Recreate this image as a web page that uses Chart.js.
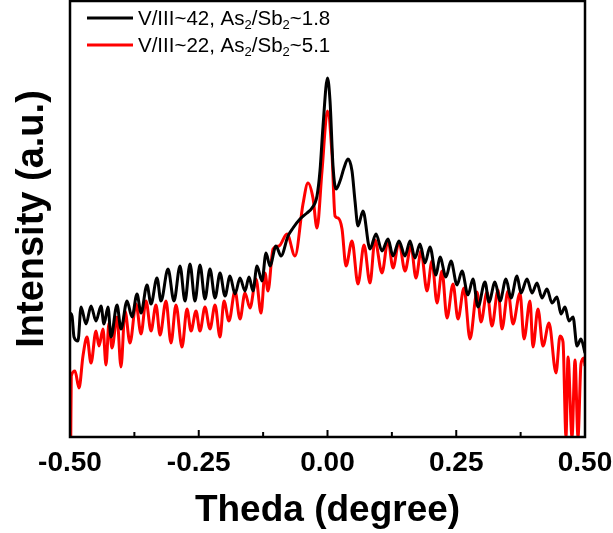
<!DOCTYPE html>
<html>
<head>
<meta charset="utf-8">
<script src="https://cdn.jsdelivr.net/npm/chart.js@4.4.1/dist/chart.umd.min.js"></script>
<style>
  html, body { margin: 0; padding: 0; background: #fff; }
  #wrap { width: 613px; height: 533px; }
</style>
</head>
<body>
<div id="wrap"><canvas id="xrdChart" width="613" height="533"></canvas></div>
<script>
// Rocking curves, omega scan (degree) vs intensity (a.u.)

// V/III~42 sample (black)
const blackTheta = [
  -0.500, -0.4961, -0.4922, -0.4845, -0.4786, -0.4689, -0.4592, -0.4495, -0.4398, -0.4340,
  -0.4262, -0.4204, -0.4087, -0.4010, -0.3893, -0.3796, -0.3699, -0.3621, -0.3505, -0.3427,
  -0.3311, -0.3233, -0.3097, -0.2981, -0.2864, -0.2767, -0.2670, -0.2573, -0.2476, -0.2379,
  -0.2282, -0.2184, -0.2087, -0.1990, -0.1893, -0.1796, -0.1699, -0.1602, -0.1524, -0.1447,
  -0.1369, -0.1272, -0.1194, -0.1117, -0.1000, -0.0903, -0.0767, -0.0670, -0.0534, -0.0398,
  -0.0301, -0.0204, -0.0146, -0.0087, 0.000, 0.0049, 0.0107, 0.0165, 0.0243, 0.0320,
  0.0398, 0.0476, 0.0534, 0.0592, 0.0689, 0.0825, 0.0942, 0.1058, 0.1175, 0.1272,
  0.1388, 0.1505, 0.1602, 0.1699, 0.1796, 0.1893, 0.1990, 0.2107, 0.2184, 0.2301,
  0.2398, 0.2515, 0.2612, 0.2728, 0.2825, 0.2922, 0.3058, 0.3136, 0.3252, 0.3350,
  0.3466, 0.3563, 0.3680, 0.3757, 0.3874, 0.3971, 0.4068, 0.4165, 0.4262, 0.4359,
  0.4456, 0.4534, 0.4612, 0.4689, 0.4767, 0.4845, 0.4922, 0.500
];
const blackIntensity = [
  12.4, 12.1, 10.0, 9.6, 13.0, 11.3, 13.1, 11.6, 13.1, 11.3,
  13.0, 10.0, 13.2, 10.8, 13.6, 12.0, 14.3, 12.4, 15.2, 13.3,
  15.9, 13.6, 16.8, 13.6, 17.1, 13.6, 17.3, 13.6, 17.2, 13.8,
  16.8, 13.9, 16.4, 14.1, 16.1, 14.3, 15.9, 14.6, 16.0, 14.6,
  17.1, 15.6, 18.4, 17.1, 19.1, 18.1, 20.1, 20.9, 21.8, 22.4,
  22.9, 24.1, 26.6, 31.1, 35.9, 33.6, 27.1, 24.8, 25.6, 26.9,
  27.8, 26.6, 23.6, 21.1, 22.6, 18.8, 20.3, 18.6, 19.8, 18.1,
  19.6, 18.1, 19.6, 17.9, 19.3, 17.4, 19.0, 16.2, 18.0, 16.0,
  17.6, 15.2, 16.6, 14.2, 15.8, 13.0, 15.5, 13.5, 15.5, 13.6,
  15.8, 13.9, 16.1, 14.4, 15.8, 14.4, 15.4, 13.9, 14.8, 13.4,
  14.0, 12.3, 13.0, 11.6, 12.0, 9.1, 9.8, 8.4
];

// V/III~22 sample (red)
const redTheta = [
  -0.4985, -0.4975, -0.4903, -0.4825, -0.4748, -0.4670, -0.4592, -0.4495, -0.4437, -0.4359,
  -0.4301, -0.4243, -0.4184, -0.4087, -0.4010, -0.3932, -0.3835, -0.3718, -0.3621, -0.3524,
  -0.3427, -0.3330, -0.3252, -0.3136, -0.3039, -0.2942, -0.2825, -0.2728, -0.2650, -0.2553,
  -0.2476, -0.2379, -0.2282, -0.2184, -0.2087, -0.2010, -0.1913, -0.1796, -0.1699, -0.1602,
  -0.1505, -0.1388, -0.1291, -0.1214, -0.1155, -0.1058, -0.0942, -0.0786, -0.0631, -0.0476,
  -0.0379, -0.0282, -0.0204, -0.0107, 0.000, 0.0087, 0.0146, 0.0204, 0.0282, 0.0359,
  0.0476, 0.0592, 0.0709, 0.0825, 0.0922, 0.1058, 0.1175, 0.1272, 0.1388, 0.1505,
  0.1621, 0.1718, 0.1816, 0.1932, 0.2029, 0.2126, 0.2223, 0.2320, 0.2437, 0.2534,
  0.2650, 0.2767, 0.2903, 0.2981, 0.3097, 0.3194, 0.3311, 0.3388, 0.3505, 0.3602,
  0.3738, 0.3816, 0.3932, 0.3990, 0.4087, 0.4184, 0.4301, 0.4437, 0.4515, 0.4573,
  0.4631, 0.4670, 0.4748, 0.4806, 0.4864, 0.4922, 0.4981, 0.500
];
const redIntensity = [
  0.0, 6.1, 6.6, 4.9, 8.1, 10.0, 7.4, 10.6, 9.1, 10.8,
  7.2, 11.4, 8.9, 12.0, 7.0, 12.6, 9.4, 13.3, 10.3, 13.6,
  10.6, 13.2, 10.2, 13.6, 9.4, 13.2, 9.0, 12.8, 10.6, 12.6,
  10.6, 13.0, 10.8, 13.2, 10.0, 13.6, 11.6, 14.6, 11.8, 14.4,
  12.9, 15.8, 12.4, 16.4, 14.6, 18.8, 19.1, 20.3, 18.1, 23.3,
  25.4, 23.9, 20.9, 26.6, 32.6, 28.3, 22.1, 21.9, 20.8, 17.1,
  19.6, 15.3, 19.2, 15.4, 19.7, 16.4, 19.7, 16.9, 19.5, 16.6,
  19.1, 15.9, 18.6, 14.6, 17.6, 13.4, 16.6, 11.9, 15.3, 11.8,
  14.9, 9.8, 14.5, 11.5, 14.5, 11.1, 14.7, 10.8, 14.6, 11.3,
  14.4, 9.8, 13.6, 9.0, 12.8, 9.1, 11.4, 6.4, 10.1, 9.5,
  0.0, 8.0, 0.0, 7.7, 0.0, 7.3, 7.9, 7.1
];

const majorTicks = [-0.50, -0.25, 0.00, 0.25, 0.50];
const minorTicks = [-0.375, -0.125, 0.125, 0.375];

const seriesColors = ['#000000', '#ff0000'];
const legendParts = [
  ['V/III~42, As', '2', '/Sb', '2', '~1.8'],
  ['V/III~22, As', '2', '/Sb', '2', '~5.1']
];

const FONT = '"Liberation Sans", Arial, Helvetica, sans-serif';

function toPoints(xs, ys) {
  return xs.map((x, i) => ({ x: x, y: ys[i] }));
}

// Frame + inward ticks + legend with subscripts
const framePlugin = {
  id: 'frame',
  afterDraw(chart) {
    const { ctx, chartArea: a } = chart;
    const xs = chart.scales.x;
    ctx.save();
    ctx.strokeStyle = '#000';
    ctx.lineWidth = 2.5;
    ctx.strokeRect(a.left, a.top, a.right - a.left, a.bottom - a.top);

    ctx.lineWidth = 2;
    majorTicks.forEach(v => {
      const px = xs.getPixelForValue(v);
      ctx.beginPath();
      ctx.moveTo(px, a.bottom);
      ctx.lineTo(px, a.bottom - 7);
      ctx.stroke();
    });
    minorTicks.forEach(v => {
      const px = xs.getPixelForValue(v);
      ctx.beginPath();
      ctx.moveTo(px, a.bottom);
      ctx.lineTo(px, a.bottom - 5);
      ctx.stroke();
    });

    // legend
    const rows = [18, 45];
    legendParts.forEach((parts, i) => {
      const y = rows[i];
      ctx.strokeStyle = seriesColors[i];
      ctx.lineWidth = 3;
      ctx.beginPath();
      ctx.moveTo(87, y);
      ctx.lineTo(133, y);
      ctx.stroke();

      let x = 138;
      ctx.fillStyle = '#000';
      ctx.textBaseline = 'alphabetic';
      parts.forEach((p, j) => {
        const sub = j % 2 === 1;
        ctx.font = (sub ? '13px ' : '20.5px ') + FONT;
        ctx.fillText(p, x, y + (sub ? 11 : 7));
        x += ctx.measureText(p).width;
      });
    });
    ctx.restore();
  }
};

const ctx = document.getElementById('xrdChart').getContext('2d');

new Chart(ctx, {
  type: 'line',
  data: {
    datasets: [
      {
        label: 'V/III~42',
        data: toPoints(blackTheta, blackIntensity),
        borderColor: seriesColors[0],
        borderWidth: 3,
        pointRadius: 0,
        cubicInterpolationMode: 'monotone'
      },
      {
        label: 'V/III~22',
        data: toPoints(redTheta, redIntensity),
        borderColor: seriesColors[1],
        borderWidth: 3,
        pointRadius: 0,
        cubicInterpolationMode: 'monotone'
      }
    ]
  },
  options: {
    responsive: false,
    animation: false,
    events: [],
    layout: { padding: { top: 1, right: 28, left: 0, bottom: 0 } },
    plugins: {
      legend: { display: false },
      tooltip: { enabled: false }
    },
    scales: {
      x: {
        type: 'linear',
        min: -0.5,
        max: 0.5,
        grid: { display: false, drawTicks: false },
        border: { display: false },
        ticks: {
          stepSize: 0.25,
          padding: 9,
          color: '#000',
          font: { family: FONT, size: 28, weight: 'bold' },
          callback: v => v.toFixed(2)
        },
        title: {
          display: true,
          text: 'Theda (degree)',
          color: '#000',
          font: { family: FONT, size: 37, weight: 'bold' },
          padding: { top: 0, bottom: 0 }
        },
        afterFit: s => {
          s.height = 96;
          s.paddingLeft = 0;
          s.paddingRight = 0;
        }
      },
      y: {
        min: 0,
        max: 43.6,
        grid: { display: false, drawTicks: false },
        border: { display: false },
        ticks: { display: false },
        title: {
          display: true,
          text: 'Intensity (a.u.)',
          color: '#000',
          font: { family: FONT, size: 38, weight: 'bold' },
          padding: { top: 10, bottom: 0 }
        },
        afterFit: s => { s.width = 70; }
      }
    }
  },
  plugins: [framePlugin]
});
</script>
</body>
</html>
